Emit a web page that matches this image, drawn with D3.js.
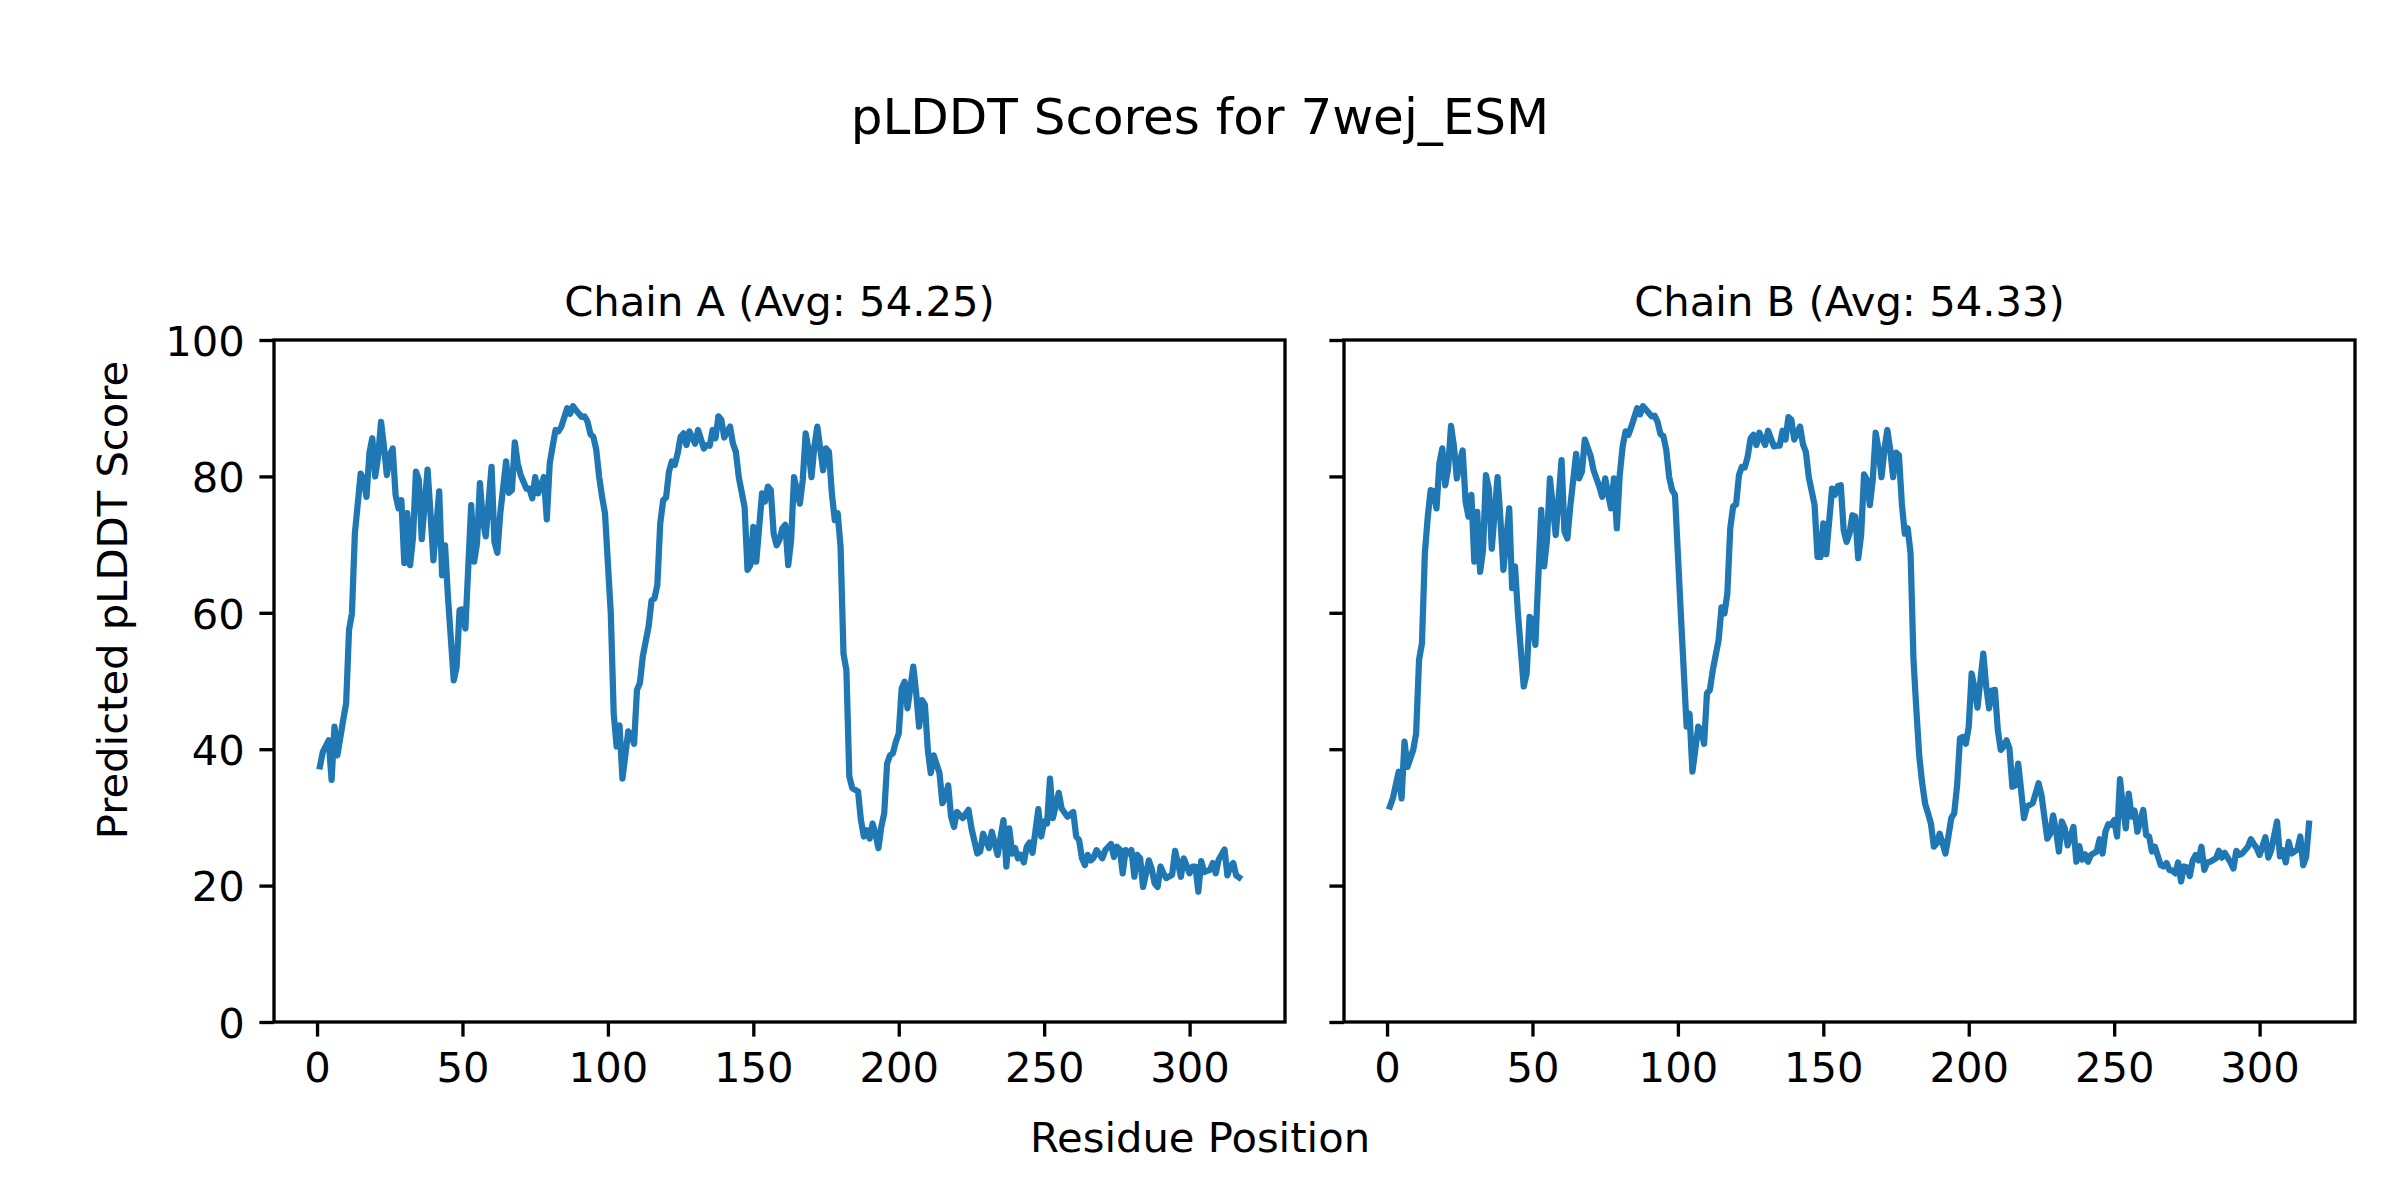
<!DOCTYPE html>
<html>
<head>
<meta charset="utf-8">
<script src="https://cdn.jsdelivr.net/npm/d3@7"></script>
<style>
  html, body { margin: 0; padding: 0; background: #fff; }
  svg { display: block; }
  text { font-family: "DejaVu Sans", sans-serif; fill: #000; }
</style>
</head>
<body>
<svg id="chart" width="2400" height="1200"></svg>
<script>
// ---------- data ----------
const figureTitle = "pLDDT Scores for 7wej_ESM";
const xAxisLabel = "Residue Position";
const yAxisLabel = "Predicted pLDDT Score";
const chainTitles = ["Chain A (Avg: 54.25)", "Chain B (Avg: 54.33)"];
const xTicks = [0, 50, 100, 150, 200, 250, 300];
const yTicks = [0, 20, 40, 60, 80, 100];
const residueCount = 317;

const residuesA = [1,2,4,5,6,7,9,10,11,12,13,15,16,17,18,19,20,21,22,23,24,25,26,27,28,29,30,31,32,33,34,35,36,38,39,40,42,43,44,45,47,48,49,50,51,53,54,55,56,57,58,60,61,62,63,65,66,67,68,69,70,72,73,74,75,76,78,79,80,81,82,83,84,86,87,88,89,91,92,93,94,95,96,97,98,99,101,102,103,104,105,107,108,109,110,111,112,114,115,116,117,118,119,120,121,122,123,124,125,126,127,128,130,131,133,134,135,136,137,138,139,140,142,143,144,145,147,148,149,150,151,153,154,155,156,157,158,159,160,161,162,163,164,166,167,168,169,170,171,172,174,175,176,177,178,179,180,181,182,183,184,186,187,188,189,190,191,192,193,194,195,196,197,198,199,200,201,202,203,205,206,207,208,209,210,211,212,214,215,216,217,218,219,220,222,224,225,227,228,229,231,232,234,236,237,238,239,240,241,242,243,244,245,246,248,249,250,251,252,253,255,256,258,260,261,262,263,264,265,266,267,268,270,271,273,274,275,276,277,278,279,280,281,282,283,284,286,287,288,289,290,291,292,294,295,296,297,298,300,301,302,303,304,305,307,308,309,310,312,313,314,315,316,317];
const scoresA = [37.5,39.6,41.3,35.5,43.3,39.1,44.3,46.7,57.5,59.9,71.6,80.4,79.5,77.0,83.4,85.6,80.0,82.9,88.0,84.4,80.2,83.1,84.1,77.3,75.3,76.5,67.3,74.6,67.0,71.1,80.7,79.5,70.8,81.0,74.6,67.7,77.8,65.5,69.9,62.4,50.1,52.1,60.4,60.5,57.7,75.8,67.5,70.2,79.0,73.6,71.2,81.4,70.4,68.8,74.6,82.2,77.6,78.0,85.0,81.9,80.2,78.2,78.2,76.8,79.9,77.5,79.9,73.7,81.9,84.4,86.8,86.6,87.3,90.0,89.2,90.3,89.7,88.7,88.8,88.0,86.2,85.8,83.9,79.9,77.0,74.6,59.9,45.2,40.4,43.5,35.7,42.6,42.1,40.8,48.7,49.7,53.6,58.0,61.8,62.1,64.1,73.1,76.5,76.9,80.7,82.2,81.7,83.4,85.8,86.3,84.6,86.6,84.8,86.8,84.1,84.6,84.5,86.8,85.6,88.8,88.3,85.7,87.3,84.8,83.6,79.9,75.5,66.3,67.0,72.6,67.5,77.5,76.3,78.5,78.0,71.6,69.9,70.7,72.4,72.9,67.0,70.7,79.9,76.0,79.5,86.3,83.9,79.9,84.4,87.3,80.9,84.1,83.6,77.5,73.6,74.6,69.7,54.0,51.6,36.0,34.3,33.8,29.6,27.2,28.1,26.9,29.1,27.6,25.5,28.6,30.6,37.9,39.1,39.4,41.1,42.3,48.9,49.9,46.0,52.1,48.2,43.3,47.2,46.5,39.9,36.5,39.1,36.5,32.1,33.0,34.7,30.1,28.6,30.8,29.9,31.1,28.4,24.7,25.0,27.6,25.5,27.9,24.5,29.6,22.8,28.4,24.7,25.5,24.0,24.5,23.4,25.7,26.3,24.8,31.2,27.2,29.4,29.1,35.7,29.9,33.6,31.3,30.1,30.8,27.2,26.7,24.0,23.0,24.5,23.7,24.1,25.2,24.0,25.2,26.1,24.2,25.7,25.3,21.8,25.2,24.7,25.2,21.3,24.5,24.0,19.8,23.7,22.4,20.3,19.8,22.8,21.8,21.1,21.6,25.1,23.3,21.3,24.0,21.8,22.8,22.8,19.1,23.6,22.0,22.3,23.3,21.8,23.8,25.3,21.5,22.8,23.3,21.5,21.2];

const residuesB = [1,2,4,5,6,7,9,10,11,12,13,14,15,16,17,18,19,20,21,22,23,24,25,26,27,28,29,30,31,32,33,34,35,36,38,39,40,42,43,44,45,47,48,49,50,51,53,54,55,56,57,58,60,61,62,63,65,66,67,68,70,71,72,73,74,75,77,78,79,80,81,82,83,84,86,87,88,89,91,92,93,94,95,96,97,98,99,101,103,104,105,107,108,109,110,111,112,114,115,116,117,118,119,120,121,122,123,124,125,126,127,128,130,131,133,134,135,136,137,138,139,140,142,143,144,145,147,148,149,150,151,153,154,155,156,157,158,159,160,161,162,163,164,165,166,167,168,169,170,171,172,173,174,175,176,177,178,179,180,181,182,183,184,185,186,187,188,189,190,191,192,193,194,195,196,197,198,199,200,201,202,203,205,206,207,208,209,210,211,212,213,214,215,216,217,218,219,220,222,223,224,225,226,227,228,229,230,231,232,233,234,236,237,238,239,240,241,242,244,245,246,247,248,249,250,251,252,253,254,255,256,257,258,259,260,261,262,263,264,266,267,268,269,270,271,272,273,274,275,276,277,278,279,280,281,282,283,285,286,287,288,290,291,292,293,294,296,297,298,299,300,302,303,304,306,307,308,309,310,311,313,314,315,316,317];
const scoresB = [31.6,32.8,36.7,32.8,41.1,37.4,39.9,42.3,53.1,55.5,68.7,74.1,78.0,77.8,75.3,81.9,84.1,78.7,81.2,87.4,84.4,79.7,82.2,83.8,76.3,74.1,77.3,67.5,74.8,66.0,69.2,80.2,78.2,69.4,79.9,73.6,66.3,75.3,63.6,66.8,59.9,49.2,51.1,59.4,58.9,55.3,75.1,66.8,70.7,79.7,75.6,71.4,82.4,71.9,70.9,75.6,83.3,79.7,80.7,85.4,83.0,80.9,79.7,78.5,77.0,79.7,75.3,79.7,72.4,80.2,84.4,86.6,86.1,87.3,90.0,89.1,90.3,89.8,88.8,88.9,88.0,86.2,85.9,83.9,79.9,78.0,77.3,59.9,43.3,45.2,36.7,43.3,42.8,40.8,48.2,48.7,51.6,56.0,60.8,59.9,62.8,72.4,75.6,75.9,80.2,81.4,81.3,82.9,85.6,86.1,84.6,86.4,84.6,86.7,84.4,84.5,84.5,86.7,85.4,88.7,88.3,85.4,87.3,84.7,83.6,79.9,75.8,68.2,68.2,73.1,68.6,78.2,77.3,78.6,78.7,72.1,70.4,71.6,74.3,74.1,68.0,71.4,80.3,79.5,75.8,79.5,86.4,83.9,79.9,83.9,86.8,83.9,79.9,83.5,83.1,76.0,71.6,72.4,68.7,53.1,45.7,38.9,35.0,32.0,30.6,29.1,25.7,26.2,27.6,26.2,24.7,27.2,29.9,30.6,34.7,41.6,41.8,40.8,43.3,51.1,48.9,46.1,54.0,49.2,46.0,48.6,48.7,42.8,39.9,40.4,41.3,40.1,34.5,34.7,37.9,34.0,29.9,31.6,32.1,33.5,35.0,33.3,30.1,26.9,27.6,30.3,28.1,25.0,29.4,28.4,25.9,28.6,23.5,25.8,23.8,24.6,23.5,24.5,25.0,26.8,24.7,27.9,29.0,28.9,29.6,27.2,35.6,31.6,28.4,33.5,30.1,31.0,27.9,29.6,31.1,27.4,27.2,25.0,25.7,23.0,22.8,23.3,22.3,22.2,21.8,23.4,20.6,22.8,22.7,21.4,23.7,24.5,23.7,25.7,22.3,23.4,23.5,24.0,25.1,24.1,24.8,23.4,22.5,25.1,24.5,24.7,25.7,26.8,26.1,25.5,24.5,27.1,24.1,25.2,29.4,24.3,25.2,23.4,26.4,24.7,25.3,27.2,23.0,24.2,29.1];

// ---------- layout ----------
const W = 2400, H = 1200;
const panels = [
  { left: 274, right: 1285, title: chainTitles[0], residues: residuesA, scores: scoresA, yLabels: true },
  { left: 1344, right: 2355, title: chainTitles[1], residues: residuesB, scores: scoresB, yLabels: false }
];
const plotTop = 340, plotBottom = 1022;
const tickLen = 14.6, tickPad = 14.6, tickFont = 41.7;
const lineColor = "#1f77b4";

const svg = d3.select("#chart");
svg.append("rect").attr("width", W).attr("height", H).attr("fill", "#fff");

const xMargin = 0.05 * (residueCount - 1);
const yScale = d3.scaleLinear().domain([0, 100]).range([plotBottom, plotTop]);

panels.forEach(p => {
  const xScale = d3.scaleLinear()
    .domain([1 - xMargin, residueCount + xMargin])
    .range([p.left, p.right]);
  const g = svg.append("g");

  // data line
  const pts = p.residues.map((r, i) => [r, p.scores[i]]);
  g.append("path")
    .datum(pts)
    .attr("fill", "none")
    .attr("stroke", lineColor)
    .attr("stroke-width", 6.25)
    .attr("stroke-linejoin", "round")
    .attr("stroke-linecap", "square")
    .attr("d", d3.line().x(d => xScale(d[0])).y(d => yScale(d[1])));

  // x axis
  const xa = g.append("g")
    .attr("transform", `translate(0,${plotBottom})`)
    .call(d3.axisBottom(xScale).tickValues(xTicks).tickFormat(d3.format("d"))
      .tickSizeInner(tickLen).tickSizeOuter(0).tickPadding(tickPad));
  xa.select(".domain").remove();
  xa.selectAll(".tick line").attr("stroke", "#000").attr("stroke-width", 3.33);
  xa.selectAll(".tick text")
    .attr("fill", "#000")
    .style("font-family", "DejaVu Sans")
    .style("font-size", tickFont + "px")
    .attr("y", tickLen + tickPad)
    .attr("dy", "0.73em");

  // y axis
  const ya = g.append("g")
    .attr("transform", `translate(${p.left},0)`)
    .call(d3.axisLeft(yScale).tickValues(yTicks).tickFormat(d3.format("d"))
      .tickSizeInner(tickLen).tickSizeOuter(0).tickPadding(tickPad));
  ya.select(".domain").remove();
  ya.selectAll(".tick line").attr("stroke", "#000").attr("stroke-width", 3.33);
  if (p.yLabels) {
    ya.selectAll(".tick text")
      .attr("fill", "#000")
      .style("font-family", "DejaVu Sans")
      .style("font-size", tickFont + "px")
      .attr("dy", "0.365em");
  } else {
    ya.selectAll(".tick text").remove();
  }

  // spines
  g.append("rect")
    .attr("x", p.left).attr("y", plotTop)
    .attr("width", p.right - p.left).attr("height", plotBottom - plotTop)
    .attr("fill", "none").attr("stroke", "#000").attr("stroke-width", 3.33);

  // panel title
  g.append("text")
    .attr("x", (p.left + p.right) / 2).attr("y", 316)
    .attr("text-anchor", "middle")
    .style("font-size", "41.7px")
    .text(p.title);
});

// figure title and shared labels
svg.append("text")
  .attr("x", W / 2).attr("y", 134)
  .attr("text-anchor", "middle")
  .style("font-size", "50px")
  .text(figureTitle);

svg.append("text")
  .attr("x", W / 2).attr("y", 1152)
  .attr("text-anchor", "middle")
  .style("font-size", "41.7px")
  .text(xAxisLabel);

svg.append("text")
  .attr("transform", "translate(127,600) rotate(-90)")
  .attr("text-anchor", "middle")
  .style("font-size", "41.7px")
  .text(yAxisLabel);
</script>
</body>
</html>
